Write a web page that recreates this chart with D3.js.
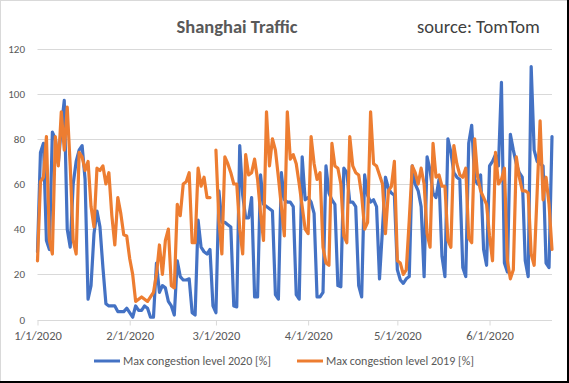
<!DOCTYPE html>
<meta charset="utf-8">
<script src="https://d3js.org/d3.v7.min.js"></script>
<style>
  body { margin: 0; background: #fff; }
  text { font-family: Carlito, Calibri, Lato, sans-serif; }
</style>
<div id="chart"></div>
<script>

  // daily values, 1/1/2020 .. 6/22/2020
  var firstDay = "2020-01-01";
  var lastDay = "2020-06-22";

  var level2020 = [30, 74, 78, 35, 31, 83, 80, 69, 85, 97,
    40, 32, 60, 70, 75, 77, 62, 9, 15, 38,
    48, 41, 23, 7, 6, 6, 6, 3.5, 3.5, 3.5,
    5, 3, 1, 6, 4, 4, 6, 5, 1, 1,
    25, 12, 15, 14, 8, 6, 2, 26, 19, 17.5,
    17.5, 18, 3, 2, 44, 32, 30, 29, 31, 6,
    3, 57, 43, 43, 42, 41, 6, 5.6, 77, 55,
    45, 45, 54, 10, 10, 64, 51, 50, 49, 48,
    11, 9, 65, 53, 52, 52, 50, 11, 9, 72,
    53, 54, 52, 47, 10, 10, 12, 68, 56, 53,
    51, 15, 14.5, 67, 65, 52, 52, 50, 15, 10,
    64, 55, 52, 53, 50, 18, 40, 63, 58, 56,
    55, 22, 17.5, 16, 18, 19, 68, 60, 57, 50,
    19, 72, 66, 56, 54, 62, 28, 19, 80, 74,
    65, 63, 62, 23, 19, 78, 86, 62, 60, 64,
    31, 24, 68, 70, 73, 68, 105, 25, 21, 82,
    75, 69, 65, 63, 26, 19, 112, 75, 70, 69,
    68, 25, 23, 81];

  // 2019 has no Feb 29 -> gap
  var level2019 = [26, 61, 63, 81, 35, 29, 81, 68, 92, 75,
    94, 68, 35, 29, 74, 72, 66, 70, 50, 41,
    67, 66, 68, 60, 65, 46, 33, 54, 47, 37.5,
    37, 27, 20, 8, 9, 10, 9, 8, 10, 12,
    20, 33, 20, 35, 40, 15, 14, 51, 46, 60,
    61, 65, 34, 34, 67, 59, 63, 54, 54, null,
    75, 44, 29, 72, 69, 65, 60, 60, 40, 29,
    73, 64, 65, 71, 62, 47, 35, 92, 68, 80,
    75, 63, 50, 37, 92, 71, 73, 69, 60, 50,
    40, 38, 81, 69, 62, 65, 32, 25, 24, 78,
    68, 67, 60, 37, 34, 81, 68, 65, 64, 55,
    40, 43, 92, 69, 68, 64, 60, 38, 57, 59,
    70, 26, 25, 20, 22, 44, 68, 65, 60, 67,
    60, 38, 32, 78, 63, 64, 59, 59, 35, 32,
    77, 69, 64, 63, 67, 36, 34, 80, 63, 57,
    54, 51, 37, 26, 74, 60, 62, 67, 26, 18,
    22, 72, 63, 57, 57, 56, 29, 24, 56, 88,
    53, 63, 51, 31];

  var yTicks = [0, 20, 40, 60, 80, 100, 120];
  var monthTicks = ["2020-01-01", "2020-02-01", "2020-03-01", "2020-04-01", "2020-05-01", "2020-06-01"];
  var seriesNames = ["Max congestion level 2020 [%]", "Max congestion level 2019 [%]"];
  var colors = ["#4472c4", "#ed7d31"];

  var W = 569, H = 383;
  var margin = {top: 48.5, right: 17, bottom: 63.5, left: 37.5};

  var parse = d3.timeParse("%Y-%m-%d");
  var days = d3.timeDay.range(parse(firstDay), d3.timeDay.offset(parse(lastDay), 1));

  var svg = d3.select("#chart")
    .append("svg")
      .attr("width", W)
      .attr("height", H);

  svg.append("rect")
    .attr("x", 0.5).attr("y", 0.5)
    .attr("width", W - 2).attr("height", H - 2)
    .attr("fill", "#fff")
    .attr("stroke", "#d9d9d9");

  // dark frame edge right / bottom
  svg.append("rect").attr("x", W - 2).attr("y", 0).attr("width", 2).attr("height", H).attr("fill", "#000");
  svg.append("rect").attr("x", 0).attr("y", H - 2).attr("width", W).attr("height", 2).attr("fill", "#000");

  var x = d3.scaleTime()
    .domain([parse(firstDay), parse(lastDay)])
    .range([margin.left, W - margin.right]);

  var y = d3.scaleLinear()
    .domain([0, 120])
    .range([H - margin.bottom, margin.top]);

  // gridlines
  svg.append("g")
    .selectAll("line")
    .data(yTicks.filter(d => d > 0))
    .enter()
    .append("line")
      .attr("x1", margin.left).attr("x2", W - margin.right)
      .attr("y1", d => Math.round(y(d)) + 0.5).attr("y2", d => Math.round(y(d)) + 0.5)
      .style("stroke", "#d9d9d9");

  // y labels
  svg.append("g")
    .selectAll("text")
    .data(yTicks)
    .enter()
    .append("text")
      .attr("x", 25)
      .attr("y", d => y(d) + 4)
      .attr("text-anchor", "end")
      .style("font-size", "11px")
      .style("fill", "#595959")
      .text(d => d);

  // x axis
  var xAxis = d3.axisBottom(x)
    .tickValues(monthTicks.map(parse))
    .tickFormat(d3.timeFormat("%-m/%-d/%Y"))
    .tickSize(5)
    .tickPadding(6);

  var gx = svg.append("g")
    .attr("transform", "translate(0," + (Math.round(y(0)) + 0.5) + ")")
    .call(xAxis);
  gx.select(".domain").attr("stroke", "#d9d9d9").attr("d", "M" + margin.left + ",0H" + (W - margin.right));
  gx.selectAll(".tick line").attr("stroke", "#d9d9d9");
  gx.selectAll(".tick text")
    .style("font-size", "12.5px")
    .style("font-family", "Carlito, Calibri, Lato, sans-serif")
    .style("fill", "#595959");

  // lines (2019 drawn on top)
  var series = [level2020, level2019];
  var line = d3.line()
    .defined(d => d != null)
    .x((d, i) => x(days[i]))
    .y(d => y(d));

  svg.append("g")
    .selectAll("path")
    .data(series)
    .enter()
    .append("path")
      .attr("d", line)
      .attr("fill", "none")
      .attr("stroke", (d, i) => colors[i])
      .attr("stroke-width", 3.2)
      .attr("stroke-linejoin", "round")
      .attr("stroke-linecap", "round");

  // title
  svg.append("text")
    .attr("x", 237).attr("y", 33)
    .attr("text-anchor", "middle")
    .style("font-size", "18.5px")
    .style("font-weight", "bold")
    .style("fill", "#595959")
    .text("Shanghai Traffic");

  svg.append("text")
    .attr("x", 417).attr("y", 33)
    .style("font-size", "18.5px")
    .style("fill", "#404040")
    .text("source: TomTom");

  // legend
  var legendX = [94, 297];
  var leg = svg.append("g")
    .selectAll("g")
    .data(seriesNames)
    .enter()
    .append("g")
      .attr("transform", (d, i) => "translate(" + legendX[i] + ",361)");
  leg.append("line")
    .attr("x1", 0).attr("x2", 26)
    .attr("stroke", (d, i) => colors[i])
    .attr("stroke-width", 3);
  leg.append("text")
    .attr("x", 29).attr("y", 4)
    .style("font-size", "12px")
    .style("fill", "#595959")
    .text(d => d);

</script>
